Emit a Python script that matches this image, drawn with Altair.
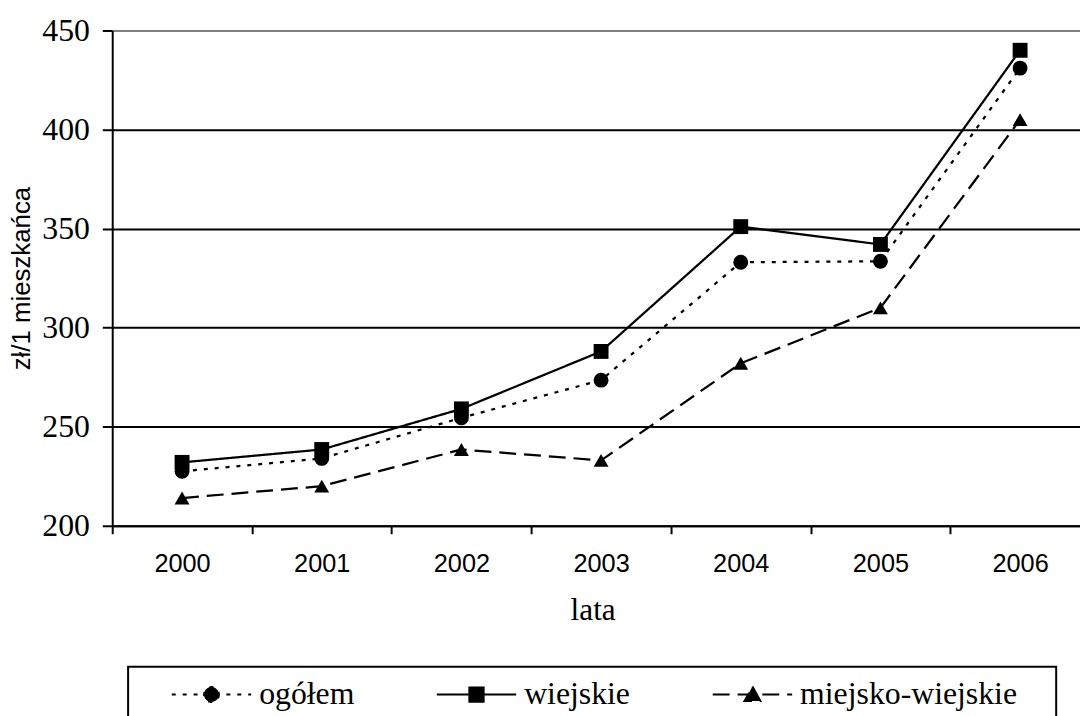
import altair as alt
import pandas as pd

years = ["2000", "2001", "2002", "2003", "2004", "2005", "2006"]
series_names = ["ogółem", "wiejskie", "miejsko-wiejskie"]
ogolem = [227.5, 234, 254.5, 273.5, 333, 333.5, 431]
wiejskie = [232, 238.5, 259, 288, 351, 342, 440]
miejsko_wiejskie = [214, 220, 238.5, 233, 282, 310, 405]
y_ticks = [200, 250, 300, 350, 400, 450]

rows = []
for name, vals in zip(series_names, [ogolem, wiejskie, miejsko_wiejskie]):
    for yr, v in zip(years, vals):
        rows.append({"rok": yr, "wartosc": v, "seria": name})
df = pd.DataFrame(rows)

SERIF = "Liberation Serif, Times New Roman, serif"
SANS = "Liberation Sans, Arial, sans-serif"

dash_range = [[4, 7], [1, 0], [17, 8]]
shape_range = ["circle", "square", "triangle-up"]
legend_paths = [
    "M-4,0H4M0.75,0A0.75,0.75,0,1,1,-0.75,0A0.75,0.75,0,1,1,0.75,0Z",
    "M-4,0H4M-0.72,-0.72H0.72V0.72H-0.72Z",
    "M-4,0H4M0,-0.8L0.8,0.65H-0.8Z",
]

grid_color = {"condition": {"test": "datum.value === 450", "value": "#808080"}, "value": "black"}

x_enc = alt.X(
    "rok:O",
    sort=years,
    scale=alt.Scale(type="band", paddingInner=0, paddingOuter=0, range=[0, 985]),
    axis=alt.Axis(
        title="lata", titleFont=SERIF, titleFontSize=31.5, titleFontWeight="normal",
        titleColor="black", titleBaseline="alphabetic", titleX=484, titleY=94,
        labelFont=SANS, labelFontSize=25.5, labelColor="black", labelAngle=0,
        labelPadding=18, tickSize=8, tickWidth=2, tickColor="black",
        domainColor="black", domainWidth=2, tickBand="extent", grid=False,
    ),
)
y_enc = alt.Y(
    "wartosc:Q",
    scale=alt.Scale(domain=[200, 450], nice=False, zero=False),
    axis=alt.Axis(
        values=y_ticks, title="zł/1 mieszkańca", titleFont=SANS, titleFontSize=26,
        titleFontWeight="normal", titleColor="black", titleAngle=270, titleBaseline="alphabetic",
        titleAlign="center", titleX=-83, titleY=249.5,
        labelFont=SERIF, labelFontSize=32, labelColor="black", labelPadding=13,
        tickSize=10, tickWidth=2, tickColor="black", domainColor="black", domainWidth=2,
        grid=True, gridColor=grid_color, gridWidth=2, gridOpacity=1,
    ),
)

base = alt.Chart(df).encode(x=x_enc, y=y_enc)

lines = base.mark_line(color="black", strokeWidth=2.25).encode(
    strokeDash=alt.StrokeDash("seria:N", scale=alt.Scale(domain=series_names, range=dash_range), legend=None)
)
points = base.mark_point(filled=True, color="black", size=225, opacity=1).encode(
    shape=alt.Shape("seria:N", scale=alt.Scale(domain=series_names, range=shape_range), legend=None)
)

leg = alt.Legend(
    orient="none", legendX=16, legendY=641, direction="horizontal", columns=3,
    title="\u00a0", titleOrient="right", titleFontSize=1, titlePadding=27,
    padding=12, strokeColor="black", columnPadding=51,
    symbolSize=400, symbolStrokeWidth=2, symbolOffset=56, labelOffset=32,
    labelFont=SERIF, labelFontSize=32, labelColor="black", labelLimit=0,
)

legend_layer = base.transform_filter("false").mark_point(
    filled=True, color="black", stroke="black", strokeWidth=2, opacity=1
).encode(
    shape=alt.Shape("seria:N", scale=alt.Scale(domain=series_names, range=legend_paths), legend=leg),
    strokeDash=alt.StrokeDash("seria:N", scale=alt.Scale(domain=series_names, range=dash_range), legend=leg),
)

chart = (
    alt.layer(lines, points, legend_layer)
    .resolve_scale(shape="independent", strokeDash="independent")
    .properties(
        width=975, height=499, background="white",
        autosize=alt.AutoSizeParams(type="none"),
        padding={"left": 105, "top": 20, "right": 0, "bottom": 189},
    )
    .configure_view(stroke=None)
    .configure_legend(strokeWidth=2)
    .configure_axisY(labelFont=SERIF, titleFont=SANS)
    .configure_axisX(labelFont=SANS, titleFont=SERIF)
)

chart.save("out.html", embed_options={"renderer": "svg", "actions": False})
